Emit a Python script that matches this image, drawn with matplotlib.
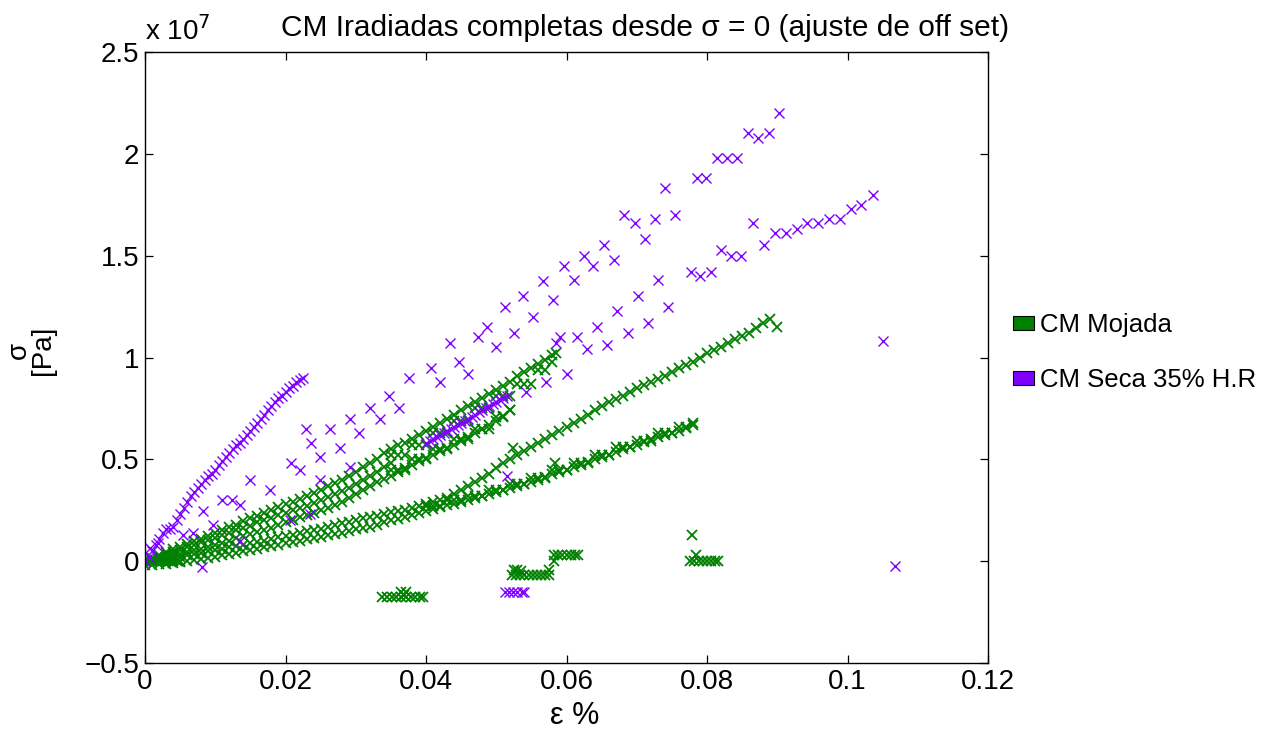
import numpy as np
import matplotlib
matplotlib.use('Agg')
import matplotlib.pyplot as plt
from matplotlib.patches import Patch

plt.rcParams['font.family'] = ['Liberation Sans', 'DejaVu Sans']

# ---------------- data (strain in %, stress in units of 1e7 Pa) ----------------
series_labels = ['CM Mojada', 'CM Seca 35% H.R']
x_tick_values = [0, 0.02, 0.04, 0.06, 0.08, 0.1, 0.12]
x_tick_labels = ['0', '0.02', '0.04', '0.06', '0.08', '0.1', '0.12']
y_tick_values = [-0.5, 0, 0.5, 1, 1.5, 2, 2.5]
y_tick_labels = ['\u22120.5', '0', '0.5', '1', '1.5', '2', '2.5']

# CM Mojada - flat start
mojada_flat = [(0.000, 0.0), (0.0005, 0.0), (0.001, 0.0), (0.0015, 0.0), (0.002, 0.0),
               (0.0025, 0.0), (0.003, 0.0), (0.0035, 0.0), (0.004, 0.0), (0.0045, 0.0), (0.005, 0.0)]

# CM Mojada - upper branch (top edge of upper band, ends ~1.02e7)
mojada_b1 = [(0.000, 0.00), (0.001, 0.015), (0.002, 0.03), (0.003, 0.045), (0.004, 0.06), (0.005, 0.07),
             (0.006, 0.085), (0.007, 0.10), (0.008, 0.11), (0.009, 0.125), (0.010, 0.14), (0.011, 0.155),
             (0.012, 0.17), (0.013, 0.18), (0.014, 0.195), (0.015, 0.21), (0.016, 0.22), (0.017, 0.235),
             (0.018, 0.25), (0.019, 0.265), (0.020, 0.28), (0.021, 0.29), (0.022, 0.305), (0.023, 0.32),
             (0.024, 0.335), (0.025, 0.35), (0.026, 0.37), (0.027, 0.385), (0.028, 0.40), (0.029, 0.42),
             (0.030, 0.44), (0.031, 0.46), (0.032, 0.48), (0.033, 0.50), (0.034, 0.53), (0.035, 0.55),
             (0.036, 0.57), (0.037, 0.58), (0.038, 0.60), (0.039, 0.62), (0.040, 0.64), (0.041, 0.66),
             (0.042, 0.68), (0.043, 0.70), (0.044, 0.72), (0.045, 0.74), (0.046, 0.76), (0.047, 0.78),
             (0.048, 0.80), (0.049, 0.82), (0.050, 0.84), (0.051, 0.86), (0.052, 0.88), (0.053, 0.91),
             (0.054, 0.93), (0.055, 0.95), (0.056, 0.97), (0.057, 0.99), (0.058, 1.01), (0.0585, 1.02)]

# CM Mojada - stepped runs below the upper branch
mojada_b1_steps = [(0.035, 0.52), (0.036, 0.52), (0.037, 0.52), (0.038, 0.57), (0.039, 0.57), (0.040, 0.57),
                   (0.041, 0.63), (0.042, 0.63), (0.043, 0.63), (0.044, 0.69), (0.045, 0.69), (0.046, 0.69),
                   (0.047, 0.75), (0.048, 0.75), (0.049, 0.75), (0.050, 0.81), (0.051, 0.81), (0.052, 0.81),
                   (0.053, 0.87), (0.054, 0.87), (0.055, 0.87), (0.056, 0.94), (0.057, 0.94), (0.058, 0.98)]

# CM Mojada - middle of upper band
mojada_b1m = [(0.001, 0.01), (0.002, 0.02), (0.003, 0.035), (0.004, 0.045), (0.005, 0.055), (0.006, 0.07),
              (0.007, 0.08), (0.008, 0.095), (0.009, 0.105), (0.010, 0.115), (0.011, 0.13), (0.012, 0.14),
              (0.013, 0.155), (0.014, 0.165), (0.015, 0.175), (0.016, 0.19), (0.017, 0.20), (0.018, 0.21),
              (0.019, 0.225), (0.020, 0.235), (0.021, 0.25), (0.022, 0.26), (0.023, 0.27), (0.024, 0.285),
              (0.025, 0.30), (0.026, 0.315), (0.027, 0.33), (0.028, 0.345), (0.029, 0.36), (0.030, 0.38),
              (0.031, 0.40), (0.032, 0.42), (0.033, 0.44), (0.034, 0.46), (0.035, 0.48)]

# CM Mojada - second branch (bottom edge of upper band, ends ~0.74e7)
mojada_b2 = [(0.000, 0.00), (0.001, 0.005), (0.002, 0.01), (0.003, 0.02), (0.004, 0.03), (0.005, 0.035),
             (0.006, 0.045), (0.007, 0.055), (0.008, 0.06), (0.009, 0.07), (0.010, 0.08), (0.011, 0.09),
             (0.012, 0.10), (0.013, 0.115), (0.014, 0.125), (0.015, 0.135), (0.016, 0.145), (0.017, 0.155),
             (0.018, 0.165), (0.019, 0.18), (0.020, 0.19), (0.021, 0.20), (0.022, 0.215), (0.023, 0.225),
             (0.024, 0.235), (0.025, 0.25), (0.026, 0.26), (0.027, 0.275), (0.028, 0.29), (0.029, 0.31),
             (0.030, 0.33), (0.031, 0.35), (0.032, 0.37), (0.033, 0.39), (0.034, 0.405), (0.035, 0.42),
             (0.036, 0.44), (0.037, 0.455), (0.038, 0.47), (0.039, 0.49), (0.040, 0.505), (0.041, 0.52),
             (0.042, 0.54), (0.043, 0.555), (0.044, 0.57), (0.045, 0.59), (0.046, 0.61), (0.047, 0.63),
             (0.048, 0.65), (0.049, 0.67), (0.050, 0.69), (0.051, 0.715), (0.052, 0.74)]

# CM Mojada - stepped runs above the second branch
mojada_b2_steps = [(0.035, 0.45), (0.036, 0.45), (0.037, 0.45), (0.038, 0.50), (0.039, 0.50), (0.040, 0.50),
                   (0.041, 0.55), (0.042, 0.55), (0.043, 0.55), (0.044, 0.60), (0.045, 0.60), (0.046, 0.60),
                   (0.047, 0.65), (0.048, 0.65), (0.049, 0.65), (0.050, 0.71), (0.051, 0.71), (0.052, 0.74)]

# CM Mojada - long branch (ends ~1.19e7)
mojada_b3 = [(0.000, 0.00), (0.001, 0.003), (0.002, 0.005), (0.003, 0.01), (0.004, 0.015), (0.005, 0.02),
             (0.006, 0.03), (0.007, 0.035), (0.008, 0.04), (0.009, 0.05), (0.010, 0.055), (0.011, 0.06),
             (0.012, 0.07), (0.013, 0.075), (0.014, 0.08), (0.015, 0.09), (0.016, 0.095), (0.017, 0.10),
             (0.018, 0.11), (0.019, 0.12), (0.020, 0.125), (0.021, 0.13), (0.022, 0.14), (0.023, 0.15),
             (0.024, 0.155), (0.025, 0.16), (0.026, 0.17), (0.027, 0.18), (0.028, 0.185), (0.029, 0.19),
             (0.030, 0.20), (0.031, 0.21), (0.032, 0.215), (0.033, 0.22), (0.034, 0.23), (0.035, 0.24),
             (0.036, 0.245), (0.037, 0.25), (0.038, 0.26), (0.039, 0.27), (0.040, 0.28), (0.041, 0.29),
             (0.042, 0.30), (0.043, 0.31), (0.044, 0.33), (0.045, 0.35), (0.046, 0.37), (0.047, 0.39),
             (0.048, 0.41), (0.049, 0.43), (0.050, 0.455), (0.051, 0.48), (0.052, 0.50), (0.053, 0.52),
             (0.054, 0.54), (0.055, 0.56), (0.056, 0.58), (0.057, 0.60), (0.058, 0.62), (0.059, 0.64),
             (0.060, 0.66), (0.061, 0.68), (0.062, 0.70), (0.063, 0.72), (0.064, 0.74), (0.065, 0.76),
             (0.066, 0.78), (0.067, 0.795), (0.068, 0.81), (0.069, 0.83), (0.070, 0.85), (0.071, 0.865),
             (0.072, 0.88), (0.073, 0.895), (0.074, 0.91), (0.075, 0.93), (0.076, 0.95), (0.077, 0.965),
             (0.078, 0.98), (0.079, 1.00), (0.080, 1.02), (0.081, 1.035), (0.082, 1.05), (0.083, 1.07),
             (0.084, 1.09), (0.085, 1.105), (0.086, 1.12), (0.087, 1.145), (0.088, 1.17), (0.089, 1.19),
             (0.090, 1.15)]

# CM Mojada - lower branch (ends ~0.67e7)
mojada_b4 = [(0.000, -0.02), (0.001, -0.02), (0.002, -0.015), (0.003, -0.015), (0.004, -0.01), (0.005, -0.005),
             (0.006, 0.00), (0.007, 0.005), (0.008, 0.01), (0.009, 0.015), (0.010, 0.02), (0.011, 0.03),
             (0.012, 0.035), (0.013, 0.04), (0.014, 0.05), (0.015, 0.055), (0.016, 0.06), (0.017, 0.07),
             (0.018, 0.075), (0.019, 0.08), (0.020, 0.09), (0.021, 0.095), (0.022, 0.10), (0.023, 0.11),
             (0.024, 0.115), (0.025, 0.12), (0.026, 0.13), (0.027, 0.135), (0.028, 0.14), (0.029, 0.15),
             (0.030, 0.16), (0.031, 0.165), (0.032, 0.17), (0.033, 0.18), (0.034, 0.19), (0.035, 0.20),
             (0.036, 0.205), (0.037, 0.215), (0.038, 0.225), (0.039, 0.235), (0.040, 0.245), (0.041, 0.255),
             (0.042, 0.265), (0.043, 0.275), (0.044, 0.28), (0.045, 0.29), (0.046, 0.30), (0.047, 0.31),
             (0.048, 0.32), (0.049, 0.33), (0.050, 0.34), (0.051, 0.35), (0.052, 0.36), (0.053, 0.37),
             (0.054, 0.38), (0.055, 0.39), (0.056, 0.40), (0.057, 0.415), (0.058, 0.43), (0.059, 0.44),
             (0.060, 0.45), (0.061, 0.46), (0.062, 0.47), (0.063, 0.485), (0.064, 0.50), (0.065, 0.51),
             (0.066, 0.52), (0.067, 0.535), (0.068, 0.55), (0.069, 0.56), (0.070, 0.57), (0.071, 0.585),
             (0.072, 0.60), (0.073, 0.61), (0.074, 0.62), (0.075, 0.63), (0.076, 0.64), (0.077, 0.655),
             (0.078, 0.67)]

# CM Mojada - stepped runs above the lower branch
mojada_b4_steps = [(0.040, 0.27), (0.041, 0.27), (0.042, 0.27), (0.043, 0.30), (0.044, 0.30), (0.045, 0.30),
                   (0.046, 0.32), (0.047, 0.32), (0.048, 0.32), (0.049, 0.35), (0.050, 0.35), (0.051, 0.35),
                   (0.052, 0.38), (0.053, 0.38), (0.054, 0.38), (0.055, 0.41), (0.056, 0.41), (0.057, 0.41),
                   (0.058, 0.45), (0.059, 0.45), (0.060, 0.45), (0.061, 0.48), (0.062, 0.48), (0.063, 0.48),
                   (0.064, 0.52), (0.065, 0.52), (0.066, 0.52), (0.067, 0.56), (0.068, 0.56), (0.069, 0.56),
                   (0.070, 0.59), (0.071, 0.59), (0.072, 0.59), (0.073, 0.63), (0.074, 0.63), (0.075, 0.63),
                   (0.076, 0.66), (0.077, 0.66), (0.078, 0.68)]

# CM Mojada - negative / offset fragments and isolated points
mojada_fragments = [(0.0338, -0.175), (0.0345, -0.175), (0.0352, -0.175), (0.0358, -0.175), (0.0365, -0.175),
                    (0.0372, -0.175), (0.0378, -0.175), (0.0385, -0.175), (0.0392, -0.175), (0.0396, -0.175),
                    (0.0365, -0.15), (0.0372, -0.15), (0.0369, -0.165),
                    (0.0522, -0.07), (0.0528, -0.07), (0.0534, -0.07), (0.0540, -0.07), (0.0546, -0.07),
                    (0.0552, -0.07), (0.0558, -0.07), (0.0564, -0.07), (0.0570, -0.07), (0.0575, -0.07),
                    (0.0525, -0.045), (0.0530, -0.045), (0.0535, -0.05), (0.0575, -0.045),
                    (0.0582, 0.03), (0.0588, 0.03), (0.0594, 0.03), (0.0600, 0.03), (0.0606, 0.03),
                    (0.0612, 0.03), (0.0616, 0.03), (0.0582, 0.0),
                    (0.0779, 0.128), (0.0776, 0.0), (0.0782, 0.0), (0.0788, 0.0), (0.0794, 0.0),
                    (0.0800, 0.0), (0.0806, 0.0), (0.0812, 0.0), (0.0816, 0.0), (0.0785, 0.03),
                    (0.0584, 0.48), (0.0524, 0.555)]

# CM Seca 35% H.R - steep dense branch
seca_b1 = [(0.0000, 0.00), (0.0005, 0.02), (0.0010, 0.05), (0.0015, 0.08), (0.0020, 0.11), (0.0025, 0.14),
           (0.0030, 0.16), (0.0035, 0.16), (0.0040, 0.17), (0.0045, 0.20), (0.0050, 0.23), (0.0055, 0.26),
           (0.0060, 0.29), (0.0065, 0.32), (0.0070, 0.34), (0.0075, 0.36), (0.0080, 0.38), (0.0085, 0.40),
           (0.0090, 0.42), (0.0095, 0.43), (0.0100, 0.45), (0.0105, 0.47), (0.0110, 0.49), (0.0115, 0.51),
           (0.0120, 0.53), (0.0125, 0.55), (0.0130, 0.57), (0.0135, 0.58), (0.0140, 0.60), (0.0145, 0.62),
           (0.0150, 0.64), (0.0155, 0.66), (0.0160, 0.68), (0.0165, 0.70), (0.0170, 0.72), (0.0175, 0.74),
           (0.0180, 0.76), (0.0185, 0.78), (0.0190, 0.80), (0.0195, 0.81), (0.0200, 0.83), (0.0205, 0.85),
           (0.0210, 0.86), (0.0215, 0.88), (0.0220, 0.89), (0.0225, 0.90)]

# CM Seca 35% H.R - dense segment inside the green band
seca_b2 = [(0.0400, 0.58), (0.0405, 0.59), (0.0410, 0.60), (0.0415, 0.61), (0.0420, 0.62), (0.0425, 0.63),
           (0.0430, 0.64), (0.0435, 0.65), (0.0440, 0.66), (0.0445, 0.67), (0.0450, 0.68), (0.0455, 0.69),
           (0.0460, 0.70), (0.0465, 0.71), (0.0470, 0.72), (0.0475, 0.73), (0.0480, 0.74), (0.0485, 0.75),
           (0.0490, 0.76), (0.0495, 0.77), (0.0500, 0.78), (0.0505, 0.79), (0.0510, 0.80), (0.0515, 0.81)]

# CM Seca 35% H.R - offset fragment
seca_fragment = [(0.0512, -0.15), (0.0518, -0.15), (0.0524, -0.15), (0.0530, -0.15), (0.0536, -0.15),
                 (0.0540, -0.15)]

# CM Seca 35% H.R - sparse points
seca_sparse = [(0.0902, 2.20), (0.0858, 2.10), (0.0873, 2.08), (0.0888, 2.10), (0.0814, 1.98), (0.0828, 1.98),
               (0.0843, 1.98), (0.0786, 1.88), (0.0799, 1.88), (0.0740, 1.83), (0.0682, 1.70), (0.0697, 1.66),
               (0.0726, 1.68), (0.0754, 1.70), (0.0712, 1.58), (0.0653, 1.55), (0.0625, 1.50), (0.0638, 1.45),
               (0.0667, 1.48), (0.0596, 1.45), (0.0611, 1.38), (0.0730, 1.38), (0.0566, 1.375), (0.0538, 1.30),
               (0.0512, 1.25), (0.0581, 1.28), (0.0552, 1.20), (0.0487, 1.15), (0.0474, 1.10), (0.0525, 1.12),
               (0.0499, 1.05), (0.0434, 1.07), (0.0585, 1.07), (0.0447, 0.98), (0.0460, 0.92), (0.0407, 0.95),
               (0.0420, 0.88), (0.0376, 0.90), (0.0347, 0.81), (0.0571, 0.88), (0.0542, 0.83), (0.0361, 0.75),
               (0.0334, 0.70), (0.0600, 0.92), (0.0515, 0.42),
               (0.1036, 1.80), (0.1019, 1.75), (0.1005, 1.73), (0.0989, 1.68), (0.0973, 1.68), (0.0958, 1.66),
               (0.0943, 1.66), (0.0928, 1.63), (0.0912, 1.61), (0.0897, 1.61), (0.0881, 1.55), (0.0865, 1.66),
               (0.0849, 1.50), (0.0834, 1.50), (0.0820, 1.53), (0.0805, 1.42), (0.0790, 1.40), (0.0777, 1.42),
               (0.0744, 1.25), (0.0702, 1.30), (0.0716, 1.17), (0.0672, 1.23), (0.0687, 1.12), (0.0643, 1.15),
               (0.0615, 1.10), (0.0657, 1.06), (0.0591, 1.10), (0.0629, 1.04), (0.1050, 1.08), (0.1067, -0.025),
               (0.0229, 0.65), (0.0263, 0.65), (0.0292, 0.70), (0.0320, 0.75), (0.0304, 0.63), (0.0278, 0.555),
               (0.0249, 0.51), (0.0236, 0.58), (0.0208, 0.48), (0.0221, 0.45), (0.0249, 0.40), (0.0149, 0.40),
               (0.0178, 0.35), (0.0110, 0.30), (0.0124, 0.30), (0.0135, 0.275), (0.0083, 0.245), (0.0235, 0.23),
               (0.0206, 0.20), (0.0097, 0.18), (0.0068, 0.14), (0.0054, 0.13), (0.0019, 0.09), (0.0081, -0.03),
               (0.0135, 0.10), (0.0007, 0.065), (0.0292, 0.46)]

mojada_parts = [mojada_flat, mojada_b1, mojada_b1_steps, mojada_b1m, mojada_b2, mojada_b2_steps,
                mojada_b3, mojada_b4, mojada_b4_steps, mojada_fragments]
seca_parts = [seca_b1, seca_b2, seca_fragment, seca_sparse]

GREEN = '#008000'
PURPLE = '#8000ff'
SCALE = 1e7

# ---------------- figure ----------------
W, H = 1277, 731
fig = plt.figure(figsize=(W / 100, H / 100), dpi=100)
ax = fig.add_axes([145 / W, 1 - 663 / H, 843 / W, 611 / H])

def unzip(pts):
    a = np.array(pts, dtype=float)
    return a[:, 0], a[:, 1] * SCALE

for part in mojada_parts:
    xs, ys = unzip(part)
    ax.plot(xs, ys, linestyle='none', marker='x', markersize=7.5, markeredgewidth=1.3, color=GREEN)
for part in seca_parts:
    xs, ys = unzip(part)
    ax.plot(xs, ys, linestyle='none', marker='x', markersize=7.5, markeredgewidth=1.0, color=PURPLE)

ax.set_xlim(0, 0.12)
ax.set_ylim(-0.5 * SCALE, 2.5 * SCALE)
ax.set_xticks(x_tick_values)
ax.set_xticklabels(x_tick_labels)
ax.set_yticks([v * SCALE for v in y_tick_values])
ax.set_yticklabels(y_tick_labels)
ax.tick_params(direction='in', top=True, right=True, length=6, width=0.9,
               labelsize=20, pad=4)
for sp in ax.spines.values():
    sp.set_linewidth(1.0)

ax.text(0.0, 1.01, 'x 10$^{7}$', transform=ax.transAxes, fontsize=20,
        ha='left', va='bottom')

fig.text(645 / W, 1 - 28 / H, 'CM Iradiadas completas desde \u03c3 = 0 (ajuste de off set)',
         ha='center', va='center', fontsize=21.5)
fig.text(575 / W, 1 - 716 / H, '\u03b5 %', ha='center', va='center', fontsize=22)
fig.text(31 / W, 1 - 350 / H, '\u03c3\n[Pa]', ha='center', va='center', rotation=90,
         multialignment='center', fontsize=20, linespacing=0.95)

handles = [Patch(facecolor=GREEN, edgecolor='black', linewidth=0.8),
           Patch(facecolor=PURPLE, edgecolor='black', linewidth=0.8)]
fig.legend(handles, series_labels, loc='upper left', bbox_to_anchor=(1013 / W, 1 - 313 / H),
           frameon=False, fontsize=18.5, handlelength=0.8, handleheight=0.45,
           handletextpad=0.25, labelspacing=1.2, borderpad=0, borderaxespad=0)

fig.savefig('out.png', dpi=100)
